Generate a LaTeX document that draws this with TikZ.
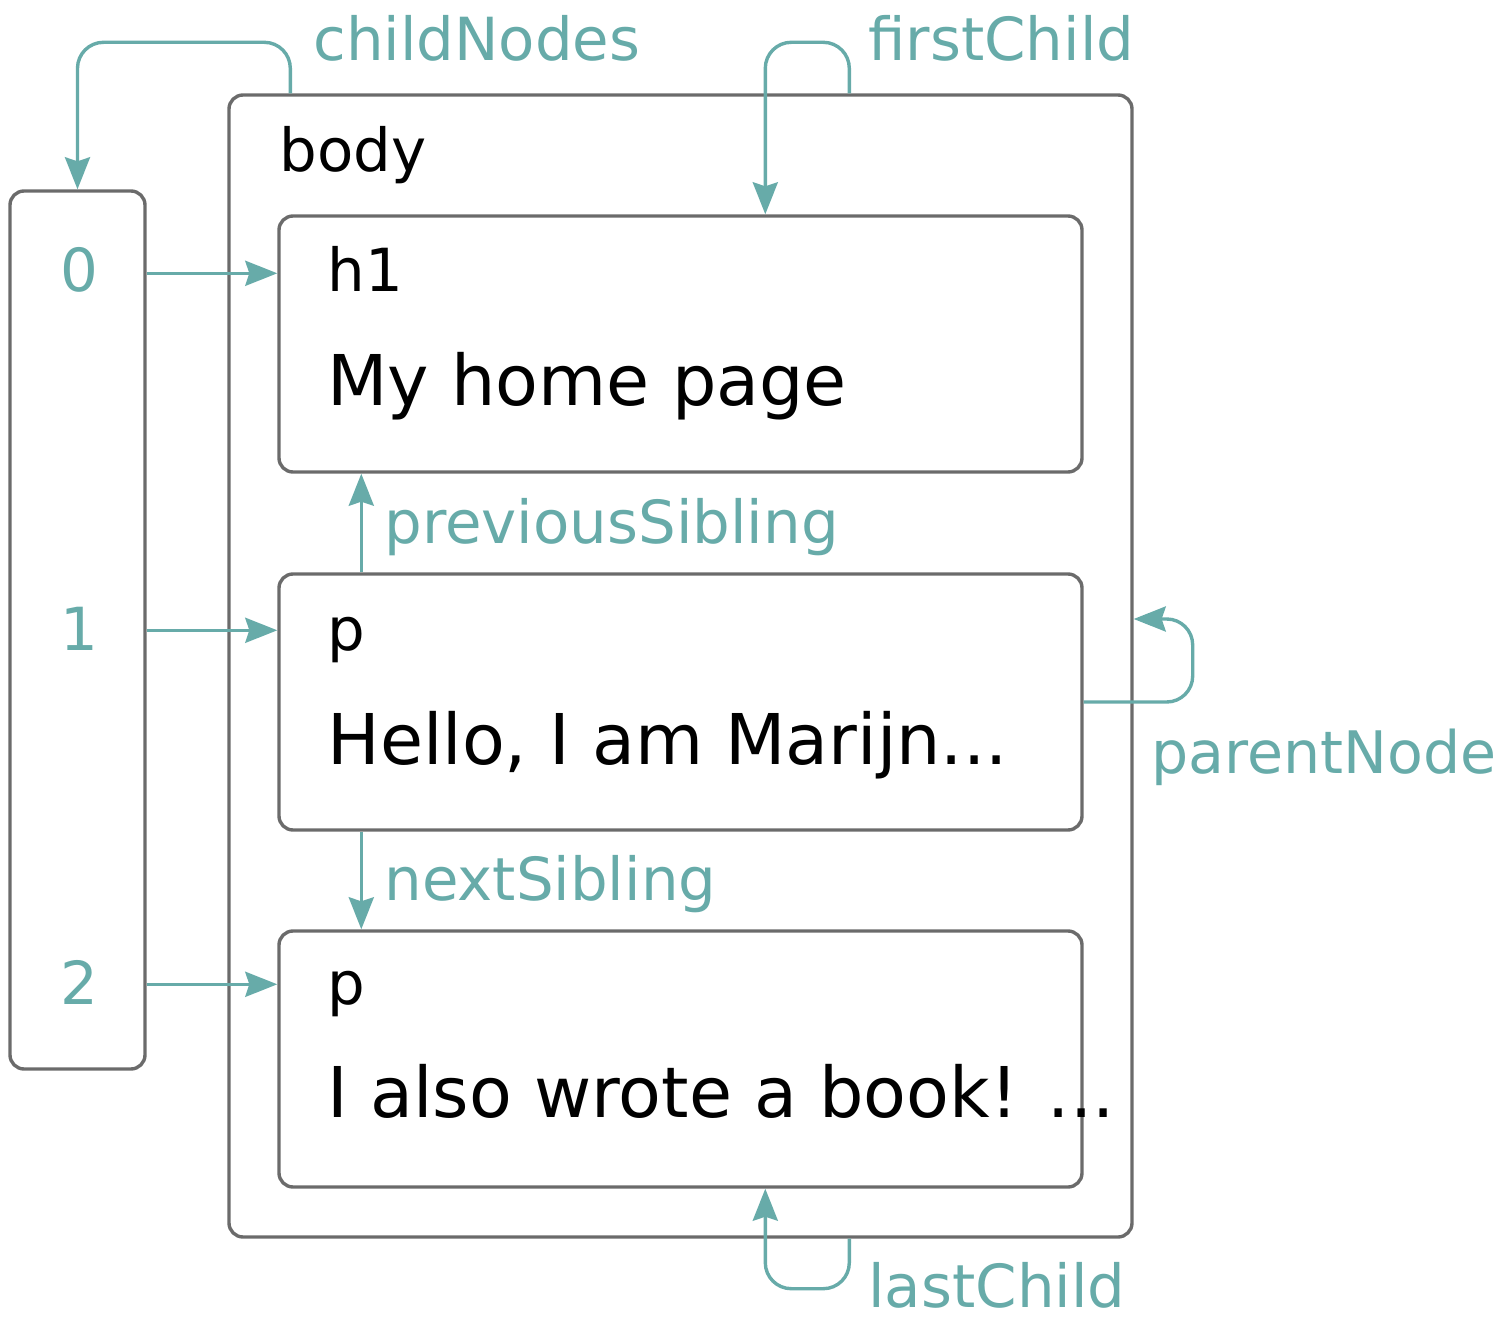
\documentclass[tikz,border=0pt]{standalone}
\usepackage{fontspec}
\setmainfont{DejaVu Sans}
\usetikzlibrary{arrows.meta,calc}
\definecolor{teal}{RGB}{103,171,169}
\definecolor{boxgray}{RGB}{107,107,107}
\begin{document}
\begin{tikzpicture}[x=0.5pt,y=-0.5pt,
  box/.style={draw=boxgray,line width=1.7pt,rounded corners=7pt,inner sep=0pt},
  conn/.style={draw=teal,line width=1.7pt,rounded corners=13pt,-{Stealth[length=16pt,width=12.5pt,inset=2pt]}},
  lbl/.style={text=teal,font=\fontsize{29.7}{34}\selectfont,inner sep=0pt,anchor=base west},
  tag/.style={text=black,font=\fontsize{29.7}{34}\selectfont,inner sep=0pt,anchor=base west},
  big/.style={text=black,font=\fontsize{35}{40}\selectfont,inner sep=0pt,anchor=base west}]
\useasboundingbox (0,0) rectangle (1500,1332);
% boxes
\node[box,minimum width=67.5pt,minimum height=439pt] (arr) at (77.5,630) {};
\node[box,minimum width=451.5pt,minimum height=571pt] (body) at (680.5,666) {};
\node[box,minimum width=401.5pt,minimum height=128pt] (h1) at (680.5,344) {};
\node[box,minimum width=401.5pt,minimum height=128pt] (p1) at (680.5,702) {};
\node[box,minimum width=401.5pt,minimum height=128pt] (p2) at (680.5,1059) {};
% texts
\node[tag] (tbody) at (279,172) {body};
\node[tag] (th1) at (327,292) {h1};
\node[big] (thome) at (327,406) {My home page};
\node[tag] (tp1) at (327,650) {p};
\node[big] (thello) at (327,764) {Hello, I am Marijn...};
\node[tag] (tp2) at (327,1004) {p};
\node[big] (tbook) at (327,1117) {I also wrote a book! ...};
% indices
\node[lbl,anchor=base] (i0) at (79,292) {0};
\node[lbl,anchor=base] (i1) at (79,650) {1};
\node[lbl,anchor=base] (i2) at (79,1004) {2};
% labels
\node[lbl] (lchild) at (313,61) {childNodes};
\node[lbl] (lfirst) at (868,61) {firstChild};
\node[lbl] (lprev) at (384,543) {previousSibling};
\node[lbl,font=\fontsize{29.3}{34}\selectfont] (lparent) at (1151,773) {parentNode};
\node[lbl] (lnext) at (384,900) {nextSibling};
\node[lbl] (llast) at (868,1307) {lastChild};
% anchor coordinates
\coordinate (a0) at ([yshift=-29.5pt]h1.north west);
\coordinate (a1) at ([yshift=-29pt]p1.north west);
\coordinate (a2) at ([yshift=-27.5pt]p2.north west);
% connectors
\draw[conn] ([xshift=31.5pt]body.north west) -- ++(0,-51) -| (arr.north);
\draw[conn] ([xshift=311pt]body.north west) -- ++(0,-51) -| ([xshift=244pt]h1.north west);
\draw[conn] ([xshift=311pt]body.south west) -- ++(0,50) -| ([xshift=244pt]p2.south west);
\draw[conn] (p1.east) -- ++(109,0) |- ([yshift=23.5pt]body.east);
\draw[conn] ([xshift=42pt]p1.north west) -- ([xshift=42pt]h1.south west);
\draw[conn] ([xshift=42pt]p1.south west) -- ([xshift=42pt]p2.north west);
\draw[conn] (arr.east |- a0) -- (a0);
\draw[conn] (arr.east |- a1) -- (a1);
\draw[conn] (arr.east |- a2) -- (a2);
\end{tikzpicture}
\end{document}
